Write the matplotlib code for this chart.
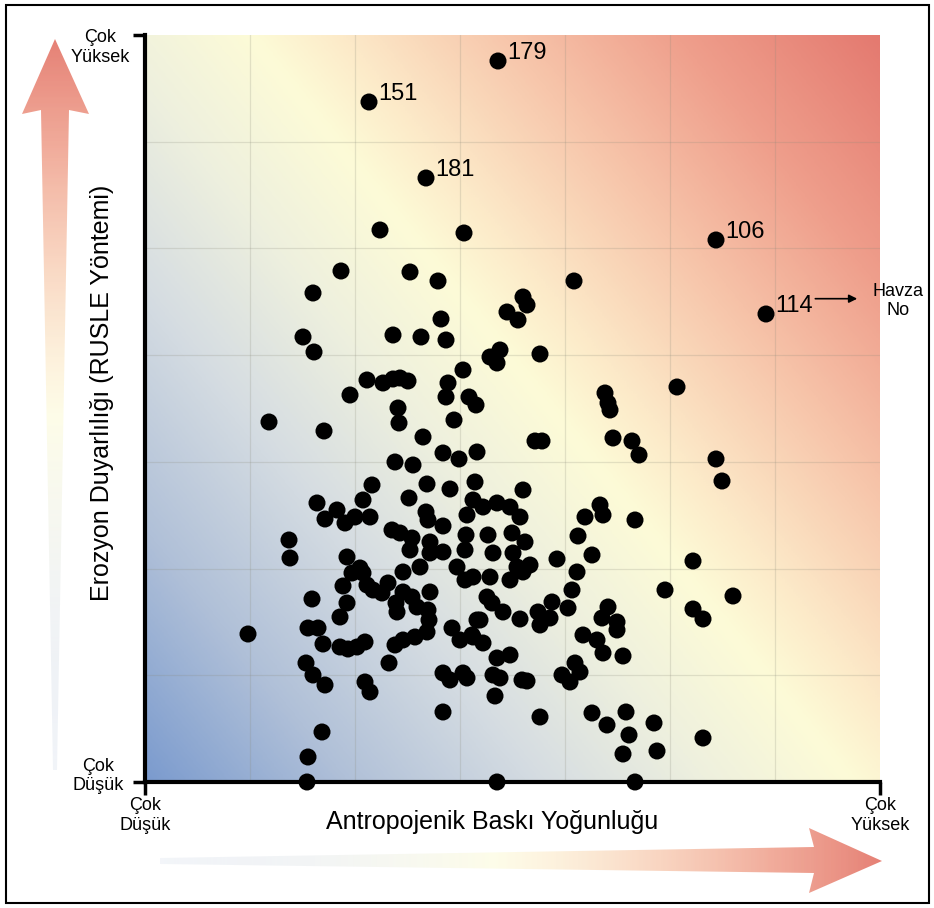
import numpy as np
import matplotlib
matplotlib.use('Agg')
import matplotlib.pyplot as plt
from matplotlib.colors import LinearSegmentedColormap
from matplotlib.patches import Polygon, Rectangle

plt.rcParams['font.family'] = ['Liberation Sans', 'DejaVu Sans']

# havza noktalari (grafik alani birimi: x 0-735, y 0-747)
havza_x = [235, 319, 196, 265, 293, 429, 168, 378, 382, 362, 373, 296, 158, 169, 248, 276,
           301, 355, 345, 352, 395, 318, 222, 238, 248, 255, 263, 205, 303, 301, 324, 331,
           124, 179, 253, 254, 309, 278, 298, 314, 332, 250, 268, 460, 463, 465, 532, 390,
           397, 468, 487, 494, 571, 577, 282, 305, 227, 218, 264, 172, 192, 180, 200, 210,
           225, 281, 283, 298, 330, 328, 322, 247, 255, 267, 265, 285, 285, 298, 321, 320,
           144, 145, 202, 215, 258, 275, 312, 338, 352, 365, 375, 378, 343, 367, 380, 348,
           368, 385, 372, 455, 458, 440, 490, 433, 447, 412, 432, 548, 103, 167, 198, 202,
           195, 163, 173, 178, 195, 203, 212, 220, 161, 168, 180, 220, 225, 244, 250, 258,
           270, 282, 284, 283, 251, 252, 258, 267, 272, 243, 237, 222, 228, 207, 218, 285,
           298, 305, 318, 322, 298, 307, 315, 327, 332, 177, 163, 162, 320, 328, 345, 365,
           378, 342, 347, 335, 358, 375, 328, 338, 393, 395, 405, 407, 423, 427, 352, 365,
           348, 355, 350, 377, 382, 417, 425, 430, 435, 395, 438, 452, 458, 463, 457, 472,
           472, 478, 520, 548, 558, 588, 447, 462, 481, 484, 509, 512, 478, 558, 352, 490]
havza_y = [552, 549, 511, 510, 501, 501, 489, 485, 477, 470, 462, 463, 445, 430, 447, 445,
           442, 432, 425, 419, 428, 412, 402, 399, 403, 404, 401, 387, 399, 385, 385, 377,
           360, 351, 374, 359, 362, 345, 329, 323, 330, 320, 317, 389, 379, 372, 395, 341,
           341, 344, 341, 327, 323, 301, 298, 293, 297, 282, 284, 279, 272, 263, 259, 265,
           265, 270, 262, 256, 300, 282, 267, 252, 249, 244, 232, 240, 229, 230, 247, 232,
           242, 224, 225, 214, 210, 215, 215, 275, 279, 275, 265, 292, 247, 249, 240, 229,
           229, 217, 215, 277, 267, 265, 262, 246, 227, 223, 210, 221, 148, 183, 196, 179,
           165, 154, 154, 138, 135, 133, 135, 140, 119, 107, 97, 100, 90, 119, 137, 142,
           145, 150, 162, 172, 179, 170, 190, 185, 175, 199, 189, 197, 192, 209, 209, 190,
           109, 102, 109, 104, 70, 154, 142, 147, 162, 50, 25, 0, 202, 205, 205, 202,
           210, 185, 179, 162, 170, 163, 145, 139, 170, 157, 164, 180, 174, 192, 124, 127,
           107, 104, 86, 102, 101, 107, 100, 119, 110, 65, 147, 142, 129, 175, 164, 160,
           152, 126, 192, 173, 163, 186, 69, 57, 70, 47, 59, 31, 28, 44, 0, 0]

etiket_no = [151, 179, 181, 106, 114]
etiket_x = [224, 353, 281, 571, 621]
etiket_y = [680, 721, 604, 542, 468]

x_lim = 735
y_lim = 747
n_grid = 7

renkler = ['#7b9bce', '#b0c0d8', '#d6dde2', '#eef0de', '#fdfbd7', '#fce9c8',
           '#f7c6ab', '#ef9f8c', '#e47a70']
duraklar = [0, .15, .3, .42, .53, .6, .72, .85, 1]
cmap = LinearSegmentedColormap.from_list('egim', list(zip(duraklar, renkler)))

W, H = 934, 908
fig = plt.figure(figsize=(W / 100, H / 100), dpi=100)

# tum figuru kaplayan yardimci eksen (oklar ve cerceve icin)
ov = fig.add_axes([0, 0, 1, 1], zorder=0)
ov.axis('off')


def egimli_ok(kose, yatay, t0, t1, a0, a1):
    poly = Polygon(kose, closed=True, fc='none', ec='none')
    ov.add_patch(poly)
    xs = [p[0] for p in kose]
    ys = [p[1] for p in kose]
    n = 300
    rgba = cmap(np.linspace(t0, t1, n))
    rgba[:, 3] = np.linspace(a0, a1, n)
    if yatay:
        img = rgba[np.newaxis, :, :]
    else:
        img = rgba[:, np.newaxis, :]
    im = ov.imshow(img, extent=(min(xs), max(xs), max(ys), min(ys)), origin='upper',
                   aspect='auto', interpolation='bilinear', zorder=2)
    im.set_clip_path(poly)


egimli_ok([(55, 39), (89, 114), (69, 110), (57, 770), (53, 770), (41, 110), (22, 114)],
          False, 0.97, 0.12, 1.0, 0.15)
egimli_ok([(882, 861), (809, 828), (814, 847), (160, 858), (160, 864), (814, 873), (809, 893)],
          True, 0.15, 0.97, 0.15, 1.0)
ov.add_patch(Rectangle((6, 5), 923, 898, fill=False, ec='black', lw=1.5))
ov.set_xlim(0, W)
ov.set_ylim(H, 0)

ax = fig.add_axes([145 / W, (H - 782) / H, 735 / W, 747 / H], zorder=1)

gx, gy = np.meshgrid(np.linspace(0, 1, 400), np.linspace(0, 1, 400))
ax.imshow(0.55 * gx + 0.45 * gy, cmap=cmap, vmin=0, vmax=1, origin='lower',
          extent=(0, x_lim, 0, y_lim), aspect='auto', interpolation='bilinear', zorder=0)

for v in np.linspace(0, x_lim, n_grid + 1)[1:-1]:
    ax.axvline(v, color='#8a8a7a', alpha=0.22, lw=0.9, zorder=1)
for v in np.linspace(0, y_lim, n_grid + 1)[1:-1]:
    ax.axhline(v, color='#8a8a7a', alpha=0.22, lw=0.9, zorder=1)

ax.scatter(havza_x + etiket_x, havza_y + etiket_y, s=150, c='black', edgecolors='none',
           zorder=5, clip_on=False)

for no, x, y in zip(etiket_no, etiket_x, etiket_y):
    ax.annotate(str(no), (x, y), xytext=(6.5, 1.5), textcoords='offset points',
                fontsize=17, ha='left', va='baseline', zorder=6)

ax.annotate('', xy=(0.969, 0.647), xytext=(0.912, 0.647), xycoords='axes fraction',
            arrowprops=dict(arrowstyle='-|>', color='black', lw=1.2, mutation_scale=12,
                            shrinkA=0, shrinkB=0), annotation_clip=False)
ax.text(1.025, 0.644, 'Havza\nNo', transform=ax.transAxes, ha='center', va='center',
        fontsize=13, multialignment='center')

ax.set_xlim(0, x_lim)
ax.set_ylim(0, y_lim)
for s in ['top', 'right']:
    ax.spines[s].set_visible(False)
for s in ['left', 'bottom']:
    ax.spines[s].set_linewidth(3)
    ax.spines[s].set_zorder(4)

ax.set_xticks([0, x_lim])
ax.set_xticklabels(['Çok\nDüşük', 'Çok\nYüksek'], fontsize=13, multialignment='center')
ax.set_yticks([0, y_lim])
ax.set_yticklabels([])
ax.tick_params(length=9, width=2.5, direction='out', pad=2)

ax.annotate('Çok\nYüksek', xy=(0, 1), xycoords='axes fraction', xytext=(-32.5, -9),
            textcoords='offset points', ha='center', va='center', fontsize=13,
            multialignment='center')
ax.annotate('Çok\nDüşük', xy=(0, 0), xycoords='axes fraction', xytext=(-33.5, 4.3),
            textcoords='offset points', ha='center', va='center', fontsize=13,
            multialignment='center')

ax.text(0.472, -0.0535, 'Antropojenik Baskı Yoğunluğu', transform=ax.transAxes,
        ha='center', va='center', fontsize=18)
ax.text(-0.0585, 0.521, 'Erozyon Duyarlılığı (RUSLE Yöntemi)', transform=ax.transAxes,
        rotation=90, ha='center', va='center', fontsize=18)

fig.savefig('out.png', dpi=100)
